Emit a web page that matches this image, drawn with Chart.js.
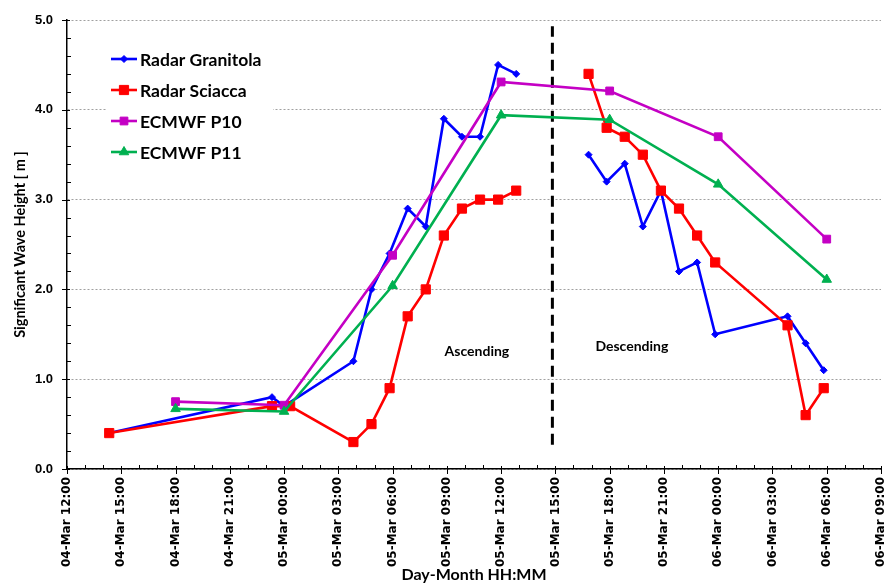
<!DOCTYPE html>
<html><head><meta charset="utf-8">
<script src="https://cdn.jsdelivr.net/npm/chart.js@4.4.1/dist/chart.umd.min.js"></script>
<style>html,body{margin:0;padding:0;background:#fff}#wrap{width:890px;height:584px}</style>
</head><body><div id="wrap"><canvas id="c" width="890" height="584"></canvas></div>
<script>
// ---- data ----
const granitolaTimes = ["04-Mar 14:20","04-Mar 23:20","05-Mar 00:00","05-Mar 03:50","05-Mar 04:50","05-Mar 05:50","05-Mar 06:50","05-Mar 07:50","05-Mar 08:50","05-Mar 09:50","05-Mar 10:50","05-Mar 11:50","05-Mar 12:50","05-Mar 14:50","05-Mar 16:50","05-Mar 17:50","05-Mar 18:50","05-Mar 19:50","05-Mar 20:50","05-Mar 21:50","05-Mar 22:50","05-Mar 23:50","06-Mar 03:50","06-Mar 04:50","06-Mar 05:50"];
const granitolaValues = [0.4,0.8,0.7,1.2,2.0,2.4,2.9,2.7,3.9,3.7,3.7,4.5,4.4,null,3.5,3.2,3.4,2.7,3.1,2.2,2.3,1.5,1.7,1.4,1.1];
const sciaccaTimes = ["04-Mar 14:20","04-Mar 23:20","05-Mar 00:20","05-Mar 03:50","05-Mar 04:50","05-Mar 05:50","05-Mar 06:50","05-Mar 07:50","05-Mar 08:50","05-Mar 09:50","05-Mar 10:50","05-Mar 11:50","05-Mar 12:50","05-Mar 14:50","05-Mar 16:50","05-Mar 17:50","05-Mar 18:50","05-Mar 19:50","05-Mar 20:50","05-Mar 21:50","05-Mar 22:50","05-Mar 23:50","06-Mar 03:50","06-Mar 04:50","06-Mar 05:50"];
const sciaccaValues = [0.4,0.7,0.7,0.3,0.5,0.9,1.7,2.0,2.6,2.9,3.0,3.0,3.1,null,4.4,3.8,3.7,3.5,3.1,2.9,2.6,2.3,1.6,0.6,0.9];
const ecmwfTimes = ["04-Mar 18:00","05-Mar 00:00","05-Mar 06:00","05-Mar 12:00","05-Mar 18:00","06-Mar 00:00","06-Mar 06:00"];
const p10Values = [0.75,0.71,2.38,4.31,4.21,3.70,2.56];
const p11Values = [0.67,0.64,2.04,3.94,3.89,3.17,2.11];
const dividerTimes = ["05-Mar 14:50","05-Mar 14:50"];
const dividerValues = [0.27,4.93];
const seriesNames = ["Radar Granitola","Radar Sciacca","ECMWF P10","ECMWF P11"];
const xTickLabels = ["04-Mar 12:00","04-Mar 15:00","04-Mar 18:00","04-Mar 21:00","05-Mar 00:00","05-Mar 03:00","05-Mar 06:00","05-Mar 09:00","05-Mar 12:00","05-Mar 15:00","05-Mar 18:00","05-Mar 21:00","06-Mar 00:00","06-Mar 03:00","06-Mar 06:00","06-Mar 09:00"];
const yTickLabels = ["0.0","1.0","2.0","3.0","4.0","5.0"];
const phaseLabels = ["Ascending","Descending"];
const xAxisTitle = "Day-Month HH:MM";
const yAxisTitle = "Significant Wave Height [ m ]";

// hours since 04-Mar 12:00
function toHours(s){
  const d = parseInt(s.slice(0,2),10), hh = parseInt(s.slice(7,9),10), mm = parseInt(s.slice(10,12),10);
  return (d-4)*24 + hh + mm/60 - 12;
}
const pts = (ts, vs) => ts.map((t,i)=>({x:toHours(t), y:vs[i]}));

const BLUE='#0000FF', RED='#FF0000', PURPLE='#C400C4', GREEN='#00B050';
const styles = [
  {color:BLUE,   pointStyle:'rectRot',  radius:3.5},
  {color:RED,    pointStyle:'rect',     radius:6.5},
  {color:PURPLE, pointStyle:'rect',     radius:5.5},
  {color:GREEN,  pointStyle:'triangle', radius:5.5}
];
const seriesData = [pts(granitolaTimes,granitolaValues), pts(sciaccaTimes,sciaccaValues), pts(ecmwfTimes,p10Values), pts(ecmwfTimes,p11Values)];

const datasets = seriesData.map((d,i)=>({
  label: seriesNames[i], data: d, order: 4-i,
  borderColor: styles[i].color, backgroundColor: styles[i].color,
  borderWidth: 2.6, pointStyle: styles[i].pointStyle, pointRadius: styles[i].radius,
  pointBorderWidth: 1, pointBackgroundColor: styles[i].color, pointBorderColor: styles[i].color,
  spanGaps:false, tension:0
}));
datasets.push({label:'divider', data: pts(dividerTimes,dividerValues), order:10, borderColor:'#000', borderWidth:3, borderDash:[11,6], pointRadius:0});

function drawMarker(ctx, style, radius, x, y, color){
  ctx.save(); ctx.fillStyle=color; ctx.strokeStyle=color; ctx.lineWidth=1;
  ctx.beginPath();
  if(style==='rect'){ const s=Math.SQRT1_2*radius; ctx.rect(x-s,y-s,2*s,2*s); }
  else if(style==='rectRot'){ ctx.moveTo(x-radius,y); ctx.lineTo(x,y-radius); ctx.lineTo(x+radius,y); ctx.lineTo(x,y+radius); ctx.closePath(); }
  else if(style==='triangle'){ for(let k=0;k<3;k++){ const a=k*2*Math.PI/3; const px=x+Math.sin(a)*radius, py=y-Math.cos(a)*radius; k?ctx.lineTo(px,py):ctx.moveTo(px,py);} ctx.closePath(); }
  ctx.fill(); ctx.stroke(); ctx.restore();
}

const decor = {
  id:'decor',
  beforeDatasetsDraw(chart){
    const ctx=chart.ctx; ctx.save(); ctx.fillStyle='#fff'; ctx.fillRect(107,42,166,126); ctx.restore();
  },
  afterDatasetsDraw(chart){
    const ctx=chart.ctx, xs=chart.scales.x, ys=chart.scales.y;
    ctx.save();
    // legend
    const rows=[59,90,121,152];
    ctx.font='bold 17.5px Lato'; ctx.textBaseline='middle'; ctx.textAlign='left';
    rows.forEach((ry,i)=>{
      ctx.strokeStyle=styles[i].color; ctx.lineWidth=2.6; ctx.beginPath(); ctx.moveTo(111,ry); ctx.lineTo(137,ry); ctx.stroke();
      drawMarker(ctx, styles[i].pointStyle, styles[i].radius, 124, ry, styles[i].color);
      ctx.fillStyle='#000'; ctx.fillText(seriesNames[i], 140, ry+1);
    });
    // phase labels
    ctx.font='bold 14px Lato'; ctx.textAlign='center';
    ctx.fillText(phaseLabels[0], xs.getPixelForValue(22.66), ys.getPixelForValue(1.31));
    ctx.fillText(phaseLabels[1], xs.getPixelForValue(31.23), ys.getPixelForValue(1.36));
    ctx.restore();
  },
  afterDraw(chart){
    const ctx=chart.ctx, xs=chart.scales.x, ys=chart.scales.y, a=chart.chartArea;
    ctx.save(); ctx.strokeStyle='#000'; ctx.lineWidth=1;
    ctx.beginPath();
    for(let h=0; h<=45; h++){
      const x=Math.round(xs.getPixelForValue(h))+0.5;
      if(h%3===0){ ctx.moveTo(x,a.bottom-3); ctx.lineTo(x,a.bottom+5); }
      else { ctx.moveTo(x,a.bottom); ctx.lineTo(x,a.bottom-4); }
    }
    for(let k=0;k<=25;k++){
      const y=Math.round(ys.getPixelForValue(k*0.2))+0.5;
      if(k%5===0){ ctx.moveTo(a.left-5,y); ctx.lineTo(a.left+3,y); }
      else { ctx.moveTo(a.left,y); ctx.lineTo(a.left+4,y); }
    }
    ctx.stroke(); ctx.restore();
  }
};

new Chart(document.getElementById('c'), {
  type:'line',
  data:{datasets},
  plugins:[decor],
  options:{
    responsive:false, animation:false, devicePixelRatio:1,
    layout:{padding:{top:20,right:9,left:0,bottom:0}},
    plugins:{legend:{display:false}, tooltip:{enabled:false}},
    scales:{
      x:{type:'linear', min:0, max:45,
        afterBuildTicks:s=>{ s.ticks = xTickLabels.map((_,i)=>({value:i*3})); },
        afterFit:s=>{ s.height=115; s.paddingLeft=0; s.paddingRight=0; },
        ticks:{autoSkip:false, minRotation:90, maxRotation:90, padding:8, color:'#000',
          font:{family:'DejaVu Sans', weight:'bold', size:12}, callback:(v,i)=>xTickLabels[i]},
        grid:{display:false, drawTicks:false},
        border:{display:true, color:'#000', width:1.5},
        title:{display:true, text:xAxisTitle, color:'#000', font:{family:'Lato', weight:'bold', size:16}, padding:{top:0,bottom:0}}
      },
      y:{type:'linear', min:0, max:5,
        afterBuildTicks:s=>{ s.ticks = yTickLabels.map((_,i)=>({value:i})); },
        afterFit:s=>{ s.width=67; s.paddingTop=0; s.paddingBottom=0; },
        ticks:{padding:14, color:'#000', font:{family:'Liberation Sans', weight:'bold', size:13}, callback:(v,i)=>yTickLabels[i]},
        grid:{color:'#a0a0a0', lineWidth:1, drawTicks:false},
        border:{display:true, color:'#000', width:1.5, dash:[2,2]},
        title:{display:true, text:yAxisTitle, color:'#000', font:{family:'Lato', weight:'bold', size:14.5}, padding:{top:12,bottom:0}}
      }
    }
  }
});
</script></body></html>
